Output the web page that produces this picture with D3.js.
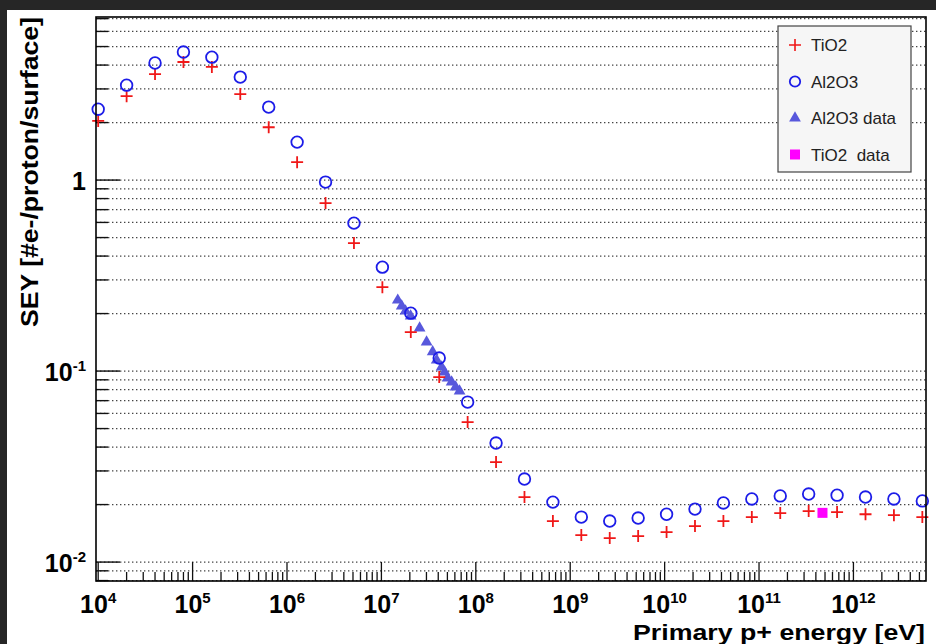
<!DOCTYPE html>
<html>
<head>
<meta charset="utf-8">
<script src="https://cdn.jsdelivr.net/npm/d3@7"></script>
<style>
  body { margin: 0; background: #262626; }
  svg { display: block; }
  text { font-family: "Liberation Sans", Arial, Helvetica, sans-serif; }
</style>
</head>
<body>
<div id="chart"></div>
<script>
// energies are 1e4 * 2^i, i = 0..29
var energies = [...Array(30).keys()].map(i => 1e4 * Math.pow(2, i));

var tio2 = [2.04, 2.75, 3.59, 4.15, 3.91, 2.82, 1.89, 1.24, 0.758, 0.468,
    0.275, 0.160, 0.093, 0.0541, 0.0334, 0.0219, 0.0164, 0.01384, 0.01336, 0.01368,
    0.01436, 0.01543, 0.0164, 0.0172, 0.01806, 0.01849, 0.01827, 0.0178, 0.0176, 0.0172];

var al2o3 = [2.35, 3.14, 4.10, 4.68, 4.40, 3.46, 2.41, 1.58, 0.976, 0.595,
    0.350, 0.201, 0.117, 0.0688, 0.0420, 0.0272, 0.0206, 0.0172, 0.0164, 0.0170,
    0.0178, 0.01894, 0.0204, 0.0214, 0.0222, 0.0227, 0.0224, 0.0219, 0.0214, 0.0209];

var al2o3DataE = [1.49e7, 1.64e7, 1.80e7, 2.04e7, 2.54e7, 3.01e7, 3.49e7, 3.85e7,
    4.34e7, 4.67e7, 5.02e7, 5.54e7, 6.11e7, 6.73e7];
var al2o3DataY = [0.235, 0.219, 0.206, 0.194, 0.168, 0.142, 0.126, 0.114,
    0.105, 0.0988, 0.0919, 0.0876, 0.0824, 0.0785];

var tio2DataE = [4.7e11];
var tio2DataY = [0.0181];

var xTicks = [1e4, 1e5, 1e6, 1e7, 1e8, 1e9, 1e10, 1e11, 1e12];
var xTickExp = ["4", "5", "6", "7", "8", "9", "10", "11", "12"];
var yTicks = [1, 0.1, 0.01];
var yTickLabels = [["1", ""], ["10", "-1"], ["10", "-2"]];

var legendNames = ["TiO2", "Al2O3", "Al2O3 data", "TiO2  data"];

(function() {
    var width = 936,
        height = 644,
        plot = { left: 96, right: 926, top: 17, bottom: 581 };

    var x = d3.scaleLog().domain([9.48e3, 5.87e12]).range([plot.left, plot.right]);
    var y = d3.scaleLog().domain([0.00796, 7.14]).range([plot.bottom, plot.top]);

    var svg = d3.select("#chart")
        .append("svg")
        .attr("width", width)
        .attr("height", height);

    svg.append("rect")
        .attr("width", width).attr("height", height)
        .attr("fill", "#262626");

    svg.append("rect")
        .attr("x", 7).attr("y", 10)
        .attr("width", width - 7).attr("height", height - 10)
        .attr("fill", "#fff");

    // minor positions for y: 1..9 x 10^k inside the domain
    var yMinor = [];
    for (var k = -3; k <= 0; k++) {
        for (var m = 1; m <= 9; m++) {
            var v = m * Math.pow(10, k);
            if (v >= y.domain()[0] && v <= y.domain()[1]) yMinor.push(v);
        }
    }
    var xMinor = [];
    for (var k = 3; k <= 12; k++) {
        for (var m = 1; m <= 9; m++) {
            var v = m * Math.pow(10, k);
            if (v >= x.domain()[0] && v <= x.domain()[1]) xMinor.push(v);
        }
    }

    // dotted horizontal grid
    svg.append("g").selectAll("line")
        .data(yMinor)
        .enter().append("line")
        .attr("x1", plot.left).attr("x2", plot.right)
        .attr("y1", d => y(d)).attr("y2", d => y(d))
        .attr("stroke", "#444")
        .attr("stroke-width", 1.3)
        .attr("stroke-dasharray", "1.4,2.6");

    // y ticks
    svg.append("g").selectAll("line")
        .data(yMinor)
        .enter().append("line")
        .attr("x1", plot.left)
        .attr("x2", d => plot.left + (yTicks.indexOf(d) >= 0 ? 24 : 12))
        .attr("y1", d => y(d)).attr("y2", d => y(d))
        .attr("stroke", "#111")
        .attr("stroke-width", 1.4);

    // x ticks
    svg.append("g").selectAll("line")
        .data(xMinor)
        .enter().append("line")
        .attr("x1", d => x(d)).attr("x2", d => x(d))
        .attr("y1", plot.bottom)
        .attr("y2", d => plot.bottom - (xTicks.indexOf(d) >= 0 ? 19 : 9))
        .attr("stroke", "#111")
        .attr("stroke-width", 1.3);

    // x labels
    var xl = svg.append("g").selectAll("text")
        .data(xTicks)
        .enter().append("text")
        .attr("x", d => x(d))
        .attr("y", 613)
        .attr("text-anchor", "middle")
        .attr("font-weight", "bold")
        .attr("font-size", 25)
        .attr("fill", "#000");
    xl.append("tspan").text("10");
    xl.append("tspan")
        .attr("dy", -10)
        .attr("font-size", 15)
        .text((d, i) => xTickExp[i]);

    // y labels
    var yl = svg.append("g").selectAll("text")
        .data(yTicks)
        .enter().append("text")
        .attr("x", 86)
        .attr("y", d => y(d) + 10)
        .attr("text-anchor", "end")
        .attr("font-weight", "bold")
        .attr("font-size", 25)
        .attr("fill", "#000");
    yl.append("tspan").text((d, i) => yTickLabels[i][0]);
    yl.append("tspan")
        .attr("dy", -10)
        .attr("font-size", 15)
        .text((d, i) => yTickLabels[i][1]);

    // axis titles
    svg.append("text")
        .attr("x", 925).attr("y", 640)
        .attr("text-anchor", "end")
        .attr("font-weight", "bold")
        .attr("font-size", 22)
        .attr("textLength", 292)
        .attr("lengthAdjust", "spacingAndGlyphs")
        .text("Primary p+ energy [eV]");

    svg.append("text")
        .attr("transform", "translate(38,17) rotate(-90)")
        .attr("text-anchor", "end")
        .attr("font-weight", "bold")
        .attr("font-size", 23)
        .attr("textLength", 310)
        .attr("lengthAdjust", "spacingAndGlyphs")
        .text("SEY [#e-/proton/surface]");

    var tri = d3.symbol().type(d3.symbolTriangle).size(60);
    var plus = (cx, cy, s) => "M" + (cx - s) + "," + cy + "H" + (cx + s) + "M" + cx + "," + (cy - s) + "V" + (cy + s);

    // Al2O3 data triangles
    svg.append("g").selectAll("path")
        .data(al2o3DataE)
        .enter().append("path")
        .attr("transform", (d, i) => "translate(" + x(d) + "," + y(al2o3DataY[i]) + ")")
        .attr("d", tri)
        .attr("fill", "#5858dc");

    // TiO2 crosses
    svg.append("g").selectAll("path")
        .data(energies)
        .enter().append("path")
        .attr("d", (d, i) => plus(x(d), y(tio2[i]), 6))
        .attr("stroke", "#f01818")
        .attr("stroke-width", 1.8)
        .attr("fill", "none");

    // Al2O3 circles
    svg.append("g").selectAll("circle")
        .data(energies)
        .enter().append("circle")
        .attr("cx", d => x(d))
        .attr("cy", (d, i) => y(al2o3[i]))
        .attr("r", 5.8)
        .attr("stroke", "#1c1ce8")
        .attr("stroke-width", 1.8)
        .attr("fill", "none");

    // TiO2 data square
    svg.append("g").selectAll("rect")
        .data(tio2DataE)
        .enter().append("rect")
        .attr("x", d => x(d) - 5)
        .attr("y", (d, i) => y(tio2DataY[i]) - 5)
        .attr("width", 10).attr("height", 10)
        .attr("fill", "#ff00ff");

    // frame
    svg.append("rect")
        .attr("x", plot.left).attr("y", plot.top)
        .attr("width", plot.right - plot.left)
        .attr("height", plot.bottom - plot.top)
        .attr("fill", "none")
        .attr("stroke", "#000")
        .attr("stroke-width", 1.6);

    // legend
    var lg = svg.append("g").attr("transform", "translate(778,26)");
    lg.append("rect")
        .attr("width", 133).attr("height", 146)
        .attr("fill", "#f6f6f6")
        .attr("stroke", "#444")
        .attr("stroke-width", 1.2);

    var rows = lg.selectAll("g.row")
        .data(legendNames)
        .enter().append("g")
        .attr("class", "row")
        .attr("transform", (d, i) => "translate(17," + (19 + i * 36.5) + ")");

    rows.append("text")
        .attr("x", 16).attr("y", 6)
        .attr("font-size", 17)
        .attr("fill", "#222")
        .style("white-space", "pre")
        .text(d => d);

    rows.filter((d, i) => i == 0).append("path")
        .attr("d", plus(0, 0, 6))
        .attr("stroke", "#f01818").attr("stroke-width", 1.6);
    rows.filter((d, i) => i == 1).append("circle")
        .attr("r", 5.2)
        .attr("stroke", "#1c1ce8").attr("stroke-width", 1.8).attr("fill", "none");
    rows.filter((d, i) => i == 2).append("path")
        .attr("d", tri)
        .attr("fill", "#5858dc");
    rows.filter((d, i) => i == 3).append("rect")
        .attr("x", -5).attr("y", -5).attr("width", 10).attr("height", 10)
        .attr("fill", "#ff00ff");
})();
</script>
</body>
</html>
